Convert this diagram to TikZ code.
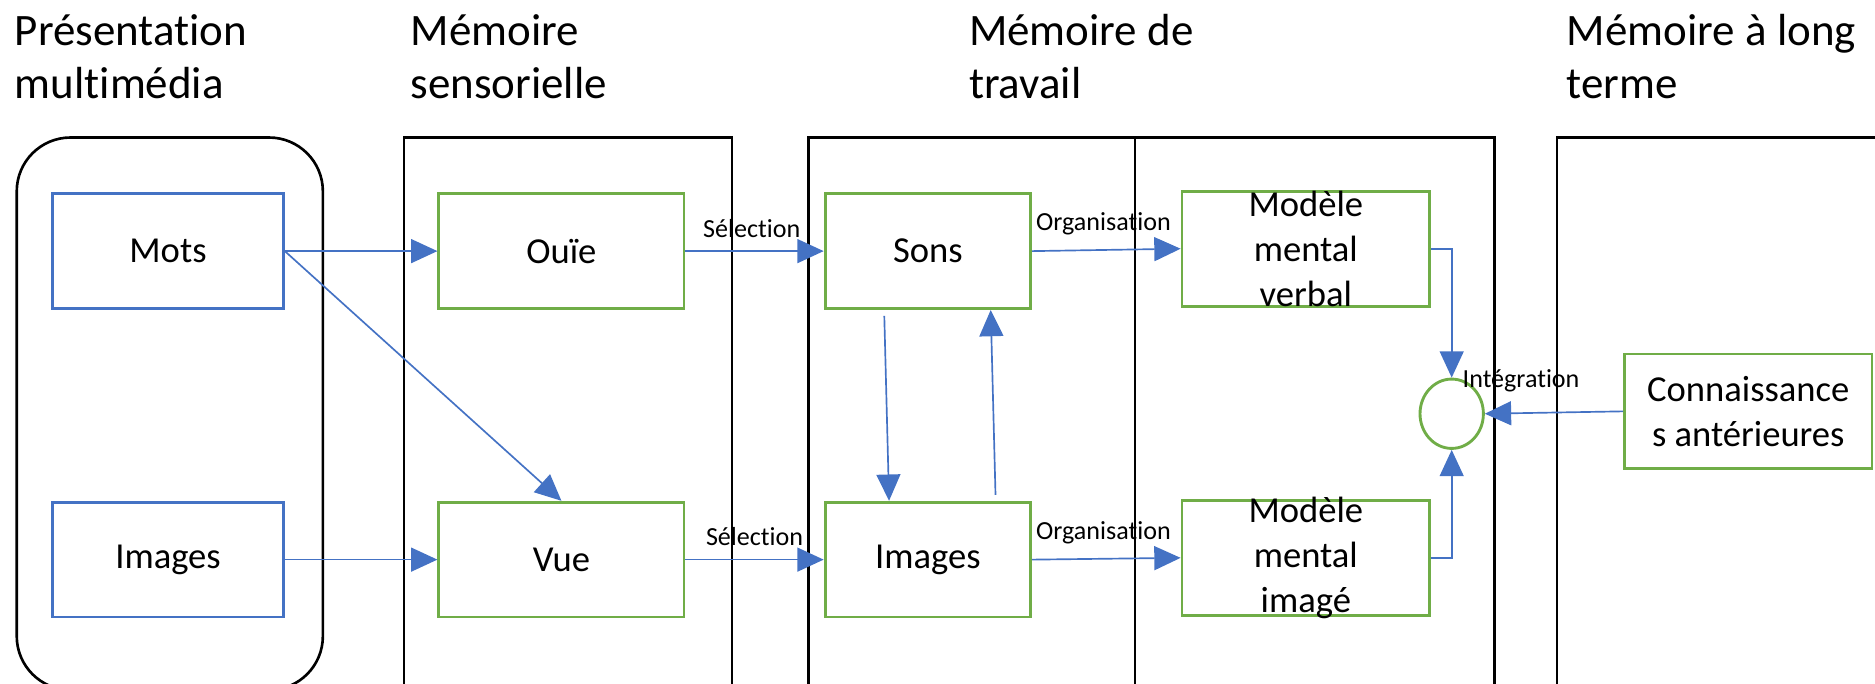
\documentclass[tikz,border=0pt]{standalone}
\usepackage{fontspec}
\setmainfont{Carlito}[Ligatures=NoCommon]
\usetikzlibrary{arrows.meta,shapes.geometric}
\definecolor{blueline}{HTML}{4472C4}
\definecolor{greenline}{HTML}{70AD47}
\tikzset{
  lane/.style={draw=black, line width=1.1pt},
  heading/.style={anchor=base west, align=left, inner sep=0pt, font=\fontsize{18.8}{21.9}\selectfont},
  inbox/.style={draw=blueline, line width=1.2pt, minimum width=96.5pt, minimum height=48pt, inner sep=0pt, align=center, font=\fontsize{15.3}{18.8}\selectfont},
  procbox/.style={inbox, draw=greenline},
  flow/.style={draw=blueline, line width=0.7pt, -{Triangle[length=11pt,width=10pt]}},
  flowlabel/.style={anchor=base, inner sep=0pt, font=\fontsize{10.9}{13}\selectfont}
}
\begin{document}
\begin{tikzpicture}[x=0.5pt, y=-0.5pt]
\useasboundingbox (0,0) rectangle (1568,572);
\clip (0,0) rectangle (1568,572);
% headings (base = last line)
\node[heading] (hpres) at (12,82) {Présentation\\multimédia};
\node[heading] (hsens) at (343,82) {Mémoire\\sensorielle};
\node[heading] (htrav) at (810,82) {Mémoire de\\travail};
\node[heading] (hlong) at (1310,82) {Mémoire à long\\terme};
% lanes
\draw[lane, rounded corners=22.5pt] (14,115) rectangle (270,577);
\draw[lane] (338,600) -- (338,115) -- (612,115) -- (612,600);
\draw[lane] (676,600) -- (676,115) -- (1250,115) -- (1250,600);
\draw[lane] (949,115) -- (949,600);
\draw[lane] (1302,600) -- (1302,115) -- (1600,115);
% boxes
\node[inbox] (mots) at (140.5,210) {Mots};
\node[inbox] (imgs) at (140.5,468) {Images};
\node[procbox, minimum width=102.5pt] (ouie) at (469.5,210) {Ouïe};
\node[procbox, minimum width=102.5pt] (vue) at (469.5,468) {Vue};
\node[procbox, minimum width=86pt] (sons) at (776,210) {Sons};
\node[procbox, minimum width=86pt] (imgwm) at (776,468) {Images};
\node[procbox, minimum width=103.5pt] (mmv) at (1092,208) {};
\node[inbox, draw=none] at (mmv.center) {Modèle\\mental\\verbal};
\node[procbox, minimum width=103.5pt] (mmi) at (1092,466.5) {};
\node[inbox, draw=none] at (mmi.center) {Modèle\\mental\\imagé};
\node[procbox, minimum width=103.5pt] (conn) at (1462,344) {Connaissance\\s antérieures};
\node[ellipse, draw=greenline, line width=1.2pt, minimum width=26.5pt, minimum height=29pt, inner sep=0pt] (integ) at (1214,346) {};
% connectors
\draw[flow] (mots.east) -- (ouie.west);
\draw[flow] (mots.east) -- (vue.north);
\draw[flow] (imgs.east) -- (vue.west);
\draw[flow] (ouie.east) -- (sons.west) node[flowlabel, pos=0.48, yshift=5.75pt] {Sélection};
\draw[flow] (vue.east) -- (imgwm.west) node[flowlabel, pos=0.5, yshift=5.75pt] {Sélection};
\draw[flow] (sons.east) -- (mmv.west) node[flowlabel, pos=0.48, yshift=8pt] {Organisation};
\draw[flow] (imgwm.east) -- (mmi.west) node[flowlabel, pos=0.48, yshift=8pt] {Organisation};
\draw[flow] ([shift={(-36.5,5)}]sons.south) -- ([shift={(-32.5,0)}]imgwm.north);
\draw[flow] ([shift={(56.5,-5)}]imgwm.north) -- ([shift={(52.5,0)}]sons.south);
\draw[flow] (mmv.east) -| (integ.north);
\draw[flow] (mmi.east) -| (integ.south);
\draw[flow] (conn.west) -- (integ.east);
\node[flowlabel] (integlabel) at (1272,324) {Intégration};
\end{tikzpicture}
\end{document}
